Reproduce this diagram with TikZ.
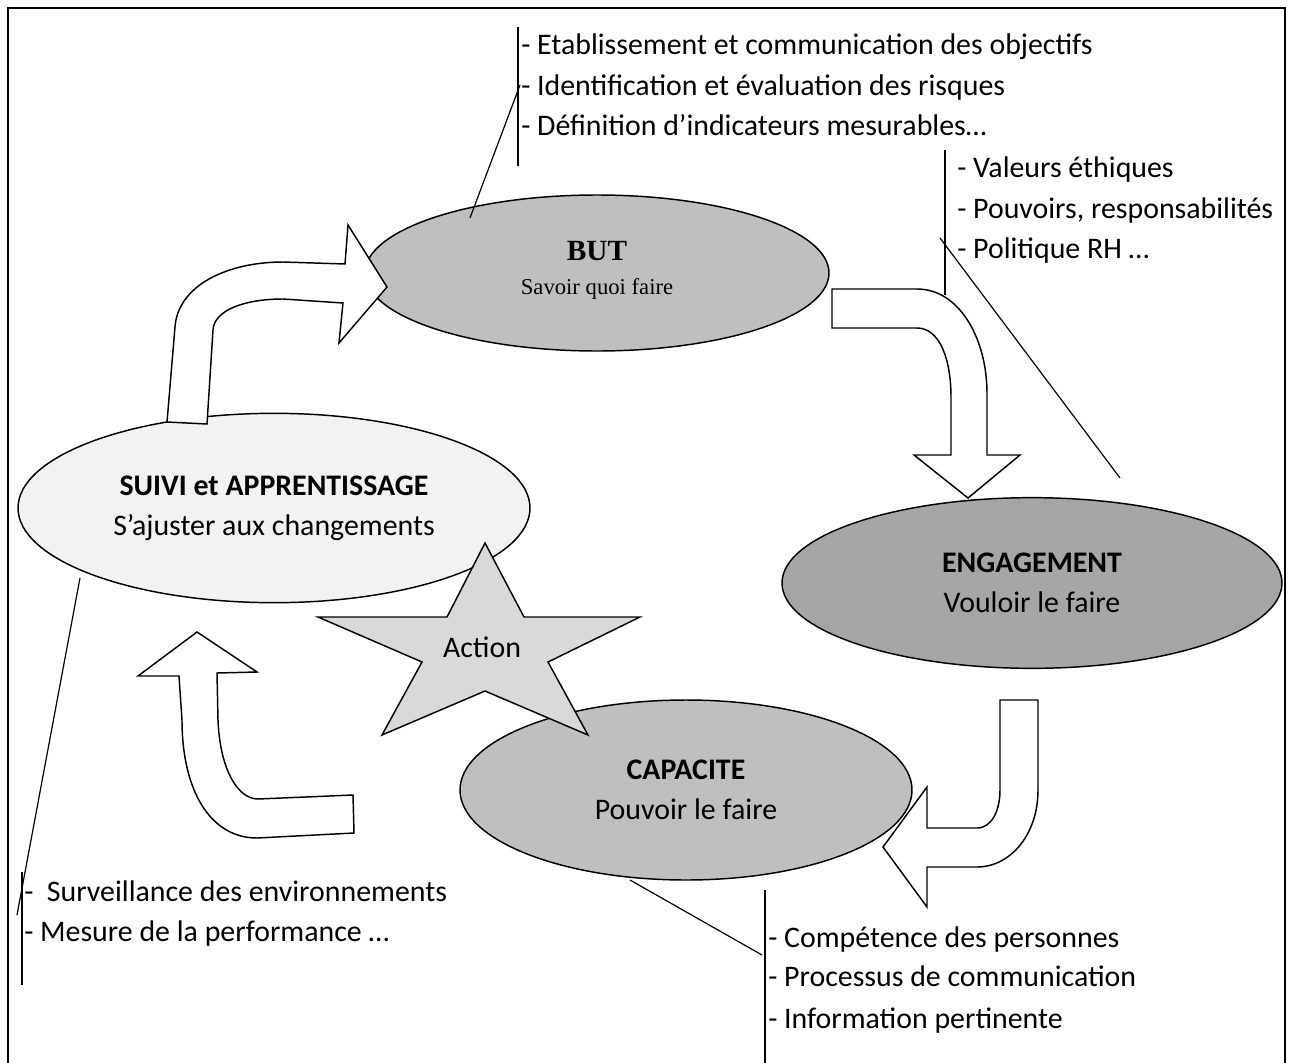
\documentclass[tikz,border=0pt]{standalone}
\usepackage{fontspec}
\setmainfont{Carlito}
\newfontfamily\serifx{Liberation Serif}
\usetikzlibrary{shapes.geometric}
\definecolor{gA}{HTML}{BFBFBF}
\definecolor{gB}{HTML}{A6A6A6}
\definecolor{gC}{HTML}{F2F2F2}
\definecolor{gS}{HTML}{D9D9D9}
\begin{document}
\begin{tikzpicture}[x=0.75pt,y=-0.75pt,
  ell/.style={ellipse, draw, line width=1.1pt, inner sep=0pt, align=center},
  barrow/.style={draw, fill=white, line width=1.1pt, line join=miter},
  bracket/.style={line width=1.1pt},
  leader/.style={line width=0.9pt},
  txt/.style={anchor=base west, inner sep=0pt, font=\fontsize{22.4}{27}\selectfont},
  lab/.style={font=\fontsize{22.4}{30}\selectfont}]
\useasboundingbox (0,0) rectangle (1292,1063);
% frame
\draw[line width=1.5pt] (8,1080) -- (8,8) -- (1285,8) -- (1285,1080);

% ellipses
\node[ell, fill=gA, minimum width=348pt, minimum height=117pt] (but) at (597,273) {};
\node[font=\serifx\bfseries\fontsize{22}{26}\selectfont] (butT) at (597,251) {BUT};
\node[font=\serifx\fontsize{17}{20}\selectfont] (butS) at (597,289) {Savoir quoi faire};
\node[ell, fill=gB, minimum width=375pt, minimum height=128pt, lab] (eng) at (1032,583)
  {\bfseries ENGAGEMENT\\ Vouloir le faire};
\node[ell, fill=gC, minimum width=384pt, minimum height=142pt, lab] (suivi) at (274,508)
  {\bfseries SUIVI et APPRENTISSAGE\\ S’ajuster aux changements};
\node[ell, fill=gA, minimum width=339pt, minimum height=135pt, lab] (cap) at (686,790)
  {\bfseries CAPACITE\\ Pouvoir le faire};

% block arrows
\draw[barrow] (167,422) -- (175,327) .. controls (178,285) and (228,262) .. (283,262)
  -- (345,264) -- (348,225) -- (387,287) -- (339,343) -- (343,303) -- (283,299)
  .. controls (245,299) and (214,310) .. (213,330) -- (207,424) -- cycle;
\draw[barrow] (832,289) -- (917,289) .. controls (960,289) and (987,340) .. (987,393)
  -- (987,455) -- (1020,455) -- (968,498) -- (914,455) -- (951,455) -- (951,397)
  .. controls (951,360) and (940,328) .. (917,328) -- (832,328) -- cycle;
\draw[barrow] (883,847) -- (927,787) -- (927,828) -- (977,828)
  .. controls (992,828) and (1000,810) .. (1000,790) -- (1000,700) -- (1038,700)
  -- (1038,790) .. controls (1038,835) and (1010,867) .. (977,867) -- (927,867)
  -- (927,907) -- cycle;
\draw[barrow] (197,632) -- (257,672) -- (217,673) -- (218,720)
  .. controls (220,770) and (238,799) .. (258,799) -- (353,795) -- (354,833)
  -- (257,838) .. controls (210,838) and (182,790) .. (182,720) -- (179,676)
  -- (138,676) -- cycle;

% star
\draw[fill=gS, line width=1.1pt, line join=miter] (485,543) -- (524,617) -- (640,617)
  -- (548,662) -- (588,735) -- (485,691) -- (382,735) -- (422,662) -- (318,617)
  -- (447,617) -- cycle;
\node[lab] (action) at (482,647) {Action};

% callout texts
\node[txt] (t1) at (521,55) {- Etablissement et communication des objectifs};
\node[txt] (t2) at (521,95) {- Identification et évaluation des risques};
\node[txt] (t3) at (521,135) {- Définition d’indicateurs mesurables…};
\node[txt] (e1) at (957,177) {- Valeurs éthiques};
\node[txt] (e2) at (957,218) {- Pouvoirs, responsabilités};
\node[txt] (e3) at (957,258) {- Politique RH …};
\node[txt] (c1) at (768,947) {- Compétence des personnes};
\node[txt] (c2) at (768,986) {- Processus de communication};
\node[txt] (c3) at (768,1028) {- Information pertinente};
\node[txt] (s1) at (24,901) {-\ \ Surveillance des environnements};
\node[txt] (s2) at (24,941) {- Mesure de la performance …};

% brackets
\coordinate (bt) at (518,27); \coordinate (bb) at (518,166);
\coordinate (et) at (945,150); \coordinate (eb) at (945,295);
\coordinate (ct) at (765,890); \coordinate (cb) at (765,1070);
\coordinate (st) at (22,872); \coordinate (sb) at (22,985);
\draw[bracket] (bt) -- (bb);
\draw[bracket] (et) -- (eb);
\draw[bracket] (ct) -- (cb);
\draw[bracket] (st) -- (sb);

% leader lines
\coordinate (l1a) at (520,85); \coordinate (l1b) at (470,218);
\coordinate (l2a) at (940,238); \coordinate (l2b) at (1120,478);
\coordinate (l3a) at (630,880); \coordinate (l3b) at (762,955);
\coordinate (l4a) at (80,578); \coordinate (l4b) at (17,915);
\draw[leader] (l1a) -- (l1b);
\draw[leader] (l2a) -- (l2b);
\draw[leader] (l3a) -- (l3b);
\draw[leader] (l4a) -- (l4b);
\end{tikzpicture}
\end{document}
